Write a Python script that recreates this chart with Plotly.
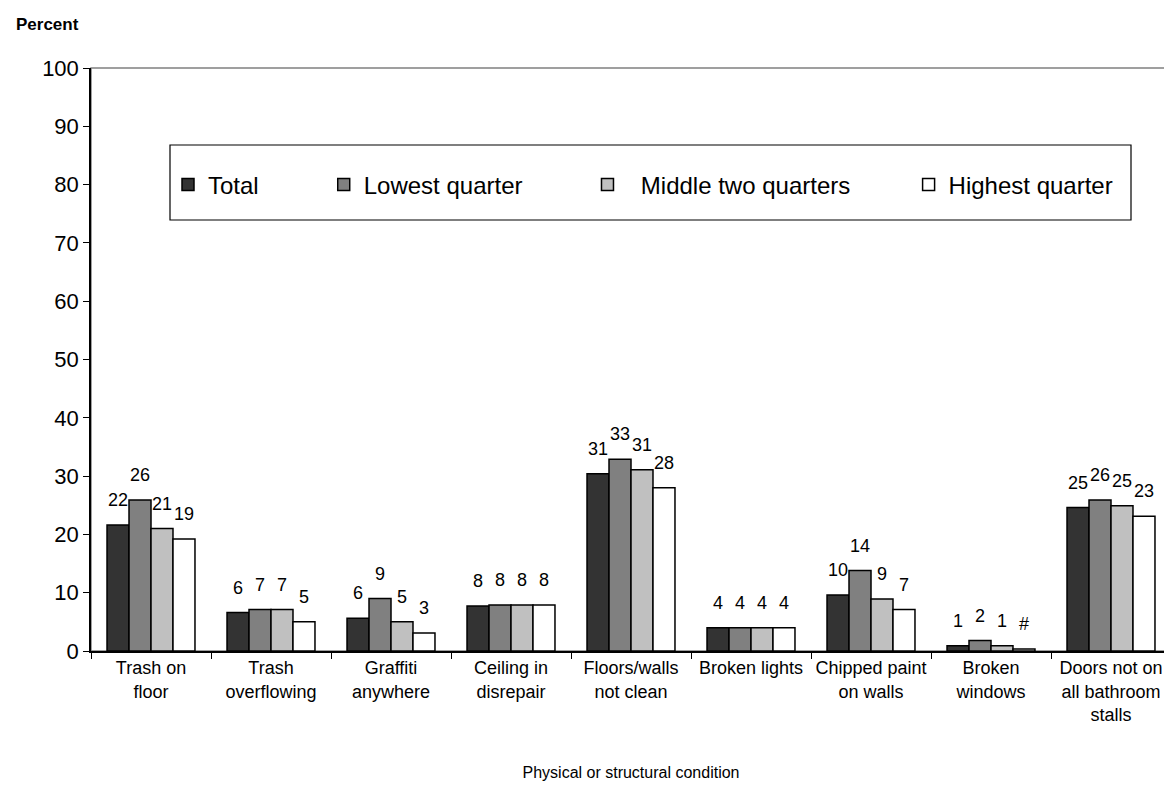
import plotly.graph_objects as go

categories = [
    "Trash on<br>floor",
    "Trash<br>overflowing",
    "Graffiti<br>anywhere",
    "Ceiling in<br>disrepair",
    "Floors/walls<br>not clean",
    "Broken lights",
    "Chipped paint<br>on walls",
    "Broken<br>windows",
    "Doors not on<br>all bathroom<br>stalls",
]

series_names = ["Total", "Lowest quarter", "Middle two quarters", "Highest quarter"]

total_vals = [21.6, 6.6, 5.6, 7.7, 30.4, 4.0, 9.6, 0.9, 24.6]
lowest_vals = [25.9, 7.1, 9.0, 7.9, 32.9, 4.0, 13.8, 1.8, 25.9]
middle_vals = [21.0, 7.1, 5.0, 7.9, 31.1, 4.0, 8.9, 0.9, 24.9]
highest_vals = [19.2, 5.0, 3.1, 7.9, 28.0, 4.0, 7.1, 0.35, 23.1]

total_labels = ["22", "6", "6", "8", "31", "4", "10", "1", "25"]
lowest_labels = ["26", "7", "9", "8", "33", "4", "14", "2", "26"]
middle_labels = ["21", "7", "5", "8", "31", "4", "9", "1", "25"]
highest_labels = ["19", "5", "3", "8", "28", "4", "7", "#", "23"]

y_ticks = [0, 10, 20, 30, 40, 50, 60, 70, 80, 90, 100]

colors = ["#333333", "#808080", "#C0C0C0", "#FFFFFF"]
NB = "\u00a0"
legend_text = [
    "Total" + NB * 9,
    "Lowest quarter" + NB * 9,
    NB * 2 + "Middle two quarters" + NB * 8,
    "Highest quarter",
]

values = [total_vals, lowest_vals, middle_vals, highest_vals]
labels = [total_labels, lowest_labels, middle_labels, highest_labels]

FONT = "Liberation Sans, Arial, sans-serif"

fig = go.Figure()
for name, lt, vals, col in zip(series_names, legend_text, values, colors):
    fig.add_trace(go.Bar(
        x=categories, y=vals, name=lt,
        marker=dict(color=col, line=dict(color="#000000", width=1.5)),
        hoverinfo="skip",
    ))

# plot geometry (pixels) for label offsets
W, H = 1172, 785
ml, mr, mt, mb = 83, 9, 60, 142
plot_w = W - ml - mr
plot_h = H - mt - mb
cat_w = plot_w / len(categories)
bargap = 0.267
bar_w = cat_w * (1 - bargap) / 4

annotations = []
for j, (vals, labs) in enumerate(zip(values, labels)):
    for cat, v, lab in zip(categories, vals, labs):
        annotations.append(dict(
            x=cat, y=v, text=lab, showarrow=False,
            xref="x", yref="y", yanchor="bottom",
            xshift=(j - 1.5) * bar_w, yshift=13,
            font=dict(family=FONT, size=18, color="#000000"),
        ))

annotations.append(dict(
    x=-(ml - 6) / plot_w, y=1 + (mt - 16) / plot_h,
    xref="paper", yref="paper", xanchor="left", yanchor="middle",
    text="<b>Percent</b>", showarrow=False,
    font=dict(family=FONT, size=17, color="#000000"),
))

shapes = [
    # plot area frame (top/right grey)
    dict(type="rect", xref="paper", yref="paper", x0=0, x1=1, y0=0, y1=1,
         line=dict(color="#808080", width=1.5), layer="below"),
    # legend box
    dict(type="rect", xref="paper", yref="paper",
         x0=(162 - ml) / plot_w, x1=(1123 - ml) / plot_w,
         y0=(H - mb - 212) / plot_h, y1=(H - mb - 137) / plot_h,
         line=dict(color="#000000", width=1.2), fillcolor="#FFFFFF", layer="below"),
]

fig.update_layout(
    width=W, height=H,
    margin=dict(l=ml, r=mr, t=mt, b=mb),
    paper_bgcolor="#FFFFFF", plot_bgcolor="#FFFFFF",
    barmode="group", bargap=bargap, bargroupgap=0,
    font=dict(family=FONT, color="#000000"),
    showlegend=True,
    legend=dict(
        orientation="h", x=(160 - ml) / plot_w, xanchor="left",
        y=(H - mb - 177) / plot_h, yanchor="middle",
        bgcolor="rgba(0,0,0,0)", borderwidth=0,
        font=dict(family=FONT, size=24, color="#000000"),
        traceorder="normal",
    ),
    annotations=annotations,
    shapes=shapes,
    xaxis=dict(
        type="category", tickson="boundaries", ticks="outside", ticklen=6,
        tickcolor="#000000", tickwidth=1,
        showline=True, linecolor="#000000", linewidth=1.5,
        tickfont=dict(family=FONT, size=18, color="#000000"),
        title=dict(text="Physical or structural condition",
                   font=dict(family=FONT, size=16, color="#000000"), standoff=43),
        showgrid=False, zeroline=False, tickangle=0,
    ),
    yaxis=dict(
        range=[0, 100], tickvals=y_ticks, ticks="outside", ticklen=6,
        tickcolor="#000000", tickwidth=1,
        showline=True, linecolor="#000000", linewidth=1.5,
        tickfont=dict(family=FONT, size=22, color="#000000"),
        showgrid=False, zeroline=False, fixedrange=True,
    ),
)

fig.write_html("out.html")
